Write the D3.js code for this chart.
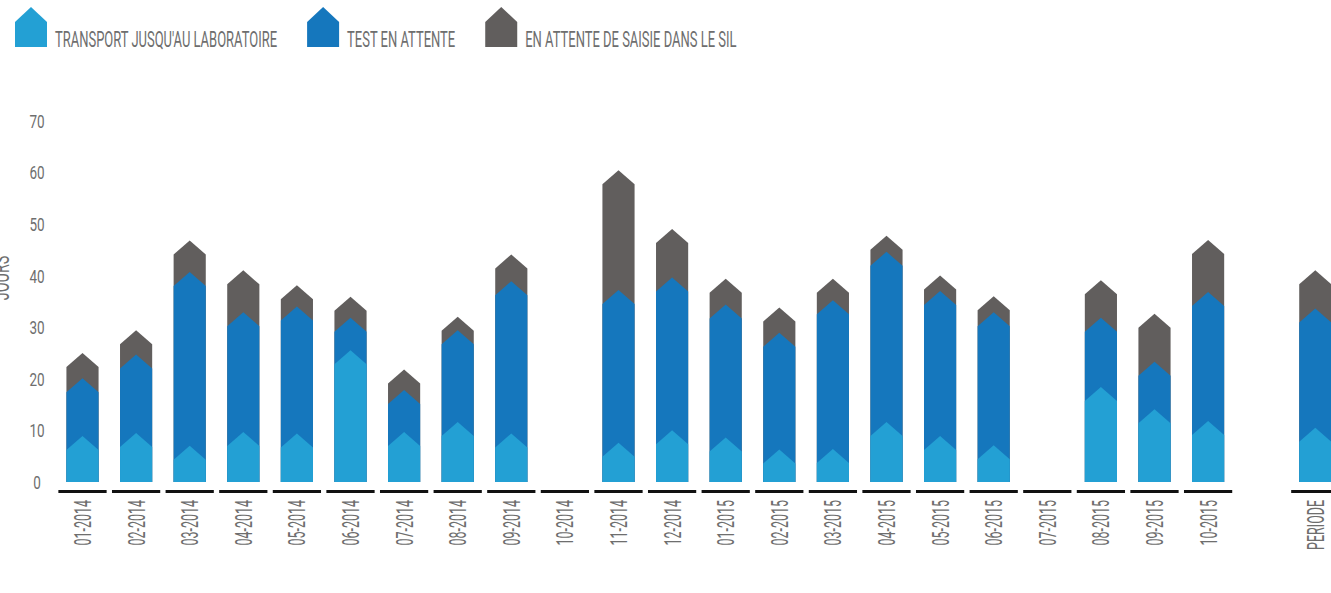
<!DOCTYPE html>
<html>
<head>
<meta charset="utf-8">
<script src="https://cdn.jsdelivr.net/npm/d3@7"></script>
<style>
  body { margin: 0; background: #fff; }
  text { font-family: Roboto, "Liberation Sans", sans-serif; fill: #6e6e6e; }
</style>
</head>
<body>
<script>
// categories, last one is the whole period (drawn after a spacer)
const months = ["01-2014", "02-2014", "03-2014", "04-2014", "05-2014", "06-2014", "07-2014",
  "08-2014", "09-2014", "10-2014", "11-2014", "12-2014", "01-2015", "02-2015", "03-2015",
  "04-2015", "05-2015", "06-2015", "07-2015", "08-2015", "09-2015", "10-2015", "PERIODE"];

// days per step, null = no data for the month
const transport = [6.2, 6.8, 4.3, 7.0, 6.7, 22.8, 7.0, 8.9, 6.7, null, 4.9, 7.3, 5.9, 3.6, 3.7,
  8.9, 6.2, 4.4, null, 15.7, 11.4, 9.1, 7.8];
const enAttente = [11.2, 15.2, 33.7, 23.2, 24.6, 6.3, 8.1, 17.8, 29.5, null, 29.6, 29.6, 25.8, 22.6, 28.8,
  33.0, 28.1, 25.8, null, 13.4, 9.2, 25.0, 23.1];
const saisie = [4.9, 4.7, 6.1, 8.1, 4.1, 4.1, 4.0, 2.6, 5.2, null, 23.2, 9.4, 5.0, 4.9, 4.2,
  3.1, 3.0, 3.1, null, 7.3, 9.3, 10.1, 7.4];

const seriesNames = ["TRANSPORT JUSQU'AU LABORATOIRE", "TEST EN ATTENTE", "EN ATTENTE DE SAISIE DANS LE SIL"];
const yTicks = [0, 10, 20, 30, 40, 50, 60, 70];

const colors = ["#23a0d4", "#1577bd", "#615e5d"];

const width = 1331, height = 593;
const svg = d3.select("body").append("svg")
  .attr("width", width)
  .attr("height", height);

// band domain with an empty slot before PERIODE
const domain = months.slice(0, 22).concat(["_gap"], months.slice(22));
const x = d3.scaleBand().domain(domain).range([55.7, 55.7 + 24 * 53.6]);
const y = d3.scaleLinear().domain([0, 70]).range([482, 120.8]);

const barW = x.bandwidth() * 0.6;
const tip = 14; // chevron height in px

const rows = months.map((m, i) => {
  const a = transport[i], b = enAttente[i], c = saisie[i];
  return { m, tops: a == null ? null : [a, a + b, a + b + c] };
});

function arrowPath(cx, v) {
  const x0 = cx - barW / 2, x1 = cx + barW / 2;
  return `M${x0},${y(0)}L${x0},${y(v)}L${cx},${y(v) - tip}L${x1},${y(v)}L${x1},${y(0)}Z`;
}

// bars: draw tallest layer first so each chevron notches into the one above
const barG = svg.append("g");
[2, 1, 0].forEach(k => {
  barG.append("g")
    .selectAll("path")
    .data(rows.filter(d => d.tops))
    .join("path")
    .attr("fill", colors[k])
    .attr("d", d => arrowPath(x(d.m) + x.bandwidth() / 2, d.tops[k]));
});

// baseline dashes under each category
svg.append("g")
  .selectAll("rect")
  .data(months)
  .join("rect")
  .attr("x", d => x(d) + x.bandwidth() * 0.05)
  .attr("y", 490)
  .attr("width", x.bandwidth() * 0.9)
  .attr("height", 3)
  .attr("fill", "#111");

// category labels (scaleX squeeze mimics the condensed face)
svg.append("g")
  .selectAll("text")
  .data(months)
  .join("text")
  .attr("transform", d => `translate(${x(d) + x.bandwidth() / 2 + 8.5},500) rotate(-90) scale(0.52,1)`)
  .attr("text-anchor", "end")
  .attr("font-size", 24)
  .text(d => d);

// y tick labels
svg.append("g")
  .selectAll("text")
  .data(yTicks)
  .join("text")
  .attr("transform", d => `translate(37,${y(d) + 7}) scale(0.75,1)`)
  .attr("text-anchor", "middle")
  .attr("font-size", 18)
  .text(d => d);

// axis title, cut by the left edge like in the original
svg.append("text")
  .attr("transform", "translate(9,278) rotate(-90) scale(0.6,1)")
  .attr("text-anchor", "middle")
  .attr("font-size", 24)
  .text("JOURS");

// legend
const legend = svg.append("g");
const legendK = 0.59;
let lx = 15;
seriesNames.forEach((name, i) => {
  legend.append("path")
    .attr("fill", colors[i])
    .attr("d", `M${lx},47L${lx},22L${lx + 16},7L${lx + 32},22L${lx + 32},47Z`);
  const t = legend.append("text")
    .attr("transform", `translate(${lx + 40},47) scale(${legendK},1)`)
    .attr("font-size", 22)
    .text(name);
  lx += 40 + t.node().getComputedTextLength() * legendK + 30;
});
</script>
</body>
</html>
